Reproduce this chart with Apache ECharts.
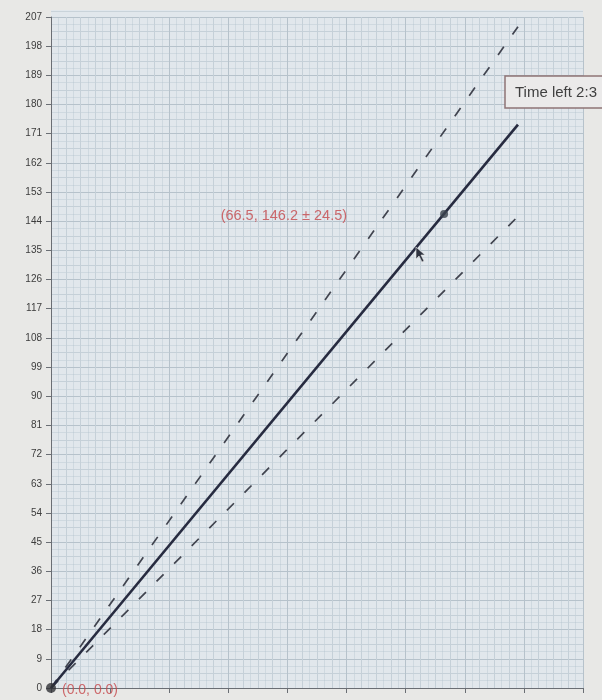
<!DOCTYPE html>
<html>
<head>
<meta charset="utf-8">
<script src="https://cdn.jsdelivr.net/npm/echarts@6/dist/echarts.min.js"></script>
<style>
html,body{margin:0;padding:0;background:#e8e8e6;}
#chart{width:602px;height:700px;}
</style>
</head>
<body>
<div id="chart"></div>
<script>
// ---- data ----
const xRange = [0, 90];
const xStep = 10;
const yRange = [0, 207];
const yStep = 9;
const origin = [0.0, 0.0];
const point = [66.5, 146.2];
const errorBand = 24.5;
const solidLine = [[0, 0], [79, 173.8]];
const upperDashed = [[0, 0], [79, 204]];
const lowerDashed = [[0, 0], [79, 145.5]];
const timeLeftText = 'Time left 2:3';

const FONT = '"Liberation Sans", Arial, sans-serif';
const chart = echarts.init(document.getElementById('chart'), null, {renderer: 'canvas'});

const plotBg = '#e1e7ec';
const majorGrid = '#b6c2cb';
const minorGrid = '#c5d0d8';
const fineGrid = 'rgba(170,188,200,0.32)';

const option = {
  backgroundColor: '#e8e8e6',
  animation: false,
  grid: {left: 51, right: 19, top: 17, bottom: 12, show: true, backgroundColor: plotBg, borderWidth: 0},
  xAxis: [
    {
      type: 'value', min: xRange[0], max: xRange[1], interval: xStep,
      axisLine: {show: true, onZero: false, lineStyle: {color: '#6a6e74', width: 1}},
      axisTick: {show: true, length: 5, lineStyle: {color: '#6a6e74'}},
      axisLabel: {show: false},
      splitLine: {show: true, lineStyle: {color: majorGrid, width: 1}},
      minorTick: {show: false, splitNumber: 4},
      minorSplitLine: {show: true, lineStyle: {color: minorGrid, width: 1}},
      z: 3
    },
    {
      type: 'value', min: xRange[0], max: xRange[1], interval: 1.25, position: 'top',
      axisLine: {show: false}, axisTick: {show: false}, axisLabel: {show: false},
      splitLine: {show: true, lineStyle: {color: fineGrid, width: 1}}
    }
  ],
  yAxis: [
    {
      type: 'value', min: yRange[0], max: yRange[1], interval: yStep,
      axisLine: {show: true, onZero: false, lineStyle: {color: '#6a6e74', width: 1}},
      axisTick: {show: true, length: 5, lineStyle: {color: '#6a6e74'}},
      axisLabel: {show: true, color: '#3c3c3c', fontSize: 10, fontFamily: FONT, margin: 9},
      splitLine: {show: true, lineStyle: {color: majorGrid, width: 1}},
      minorTick: {show: false, splitNumber: 2},
      minorSplitLine: {show: true, lineStyle: {color: minorGrid, width: 1}},
      z: 3
    },
    {
      type: 'value', min: yRange[0], max: yRange[1], interval: 2.25, position: 'right',
      axisLine: {show: false}, axisTick: {show: false}, axisLabel: {show: false},
      splitLine: {show: true, lineStyle: {color: fineGrid, width: 1}}
    }
  ],
  series: [
    {
      type: 'line', data: upperDashed, symbol: 'none', clip: false,
      lineStyle: {color: '#41444f', width: 1.7, type: [10, 15]}, z: 4
    },
    {
      type: 'line', data: lowerDashed, symbol: 'none', clip: false,
      lineStyle: {color: '#41444f', width: 1.7, type: [10, 15]}, z: 4
    },
    {
      type: 'line', data: solidLine, symbol: 'none', clip: false,
      lineStyle: {color: '#272b40', width: 2.6}, z: 5
    },
    {
      type: 'scatter', data: [point], symbolSize: 8, clip: false,
      itemStyle: {color: '#3b434e'}, z: 6,
      label: {
        show: true, position: 'left', distance: 93, offset: [0, 2],
        formatter: () => '(' + point[0].toFixed(1) + ', ' + point[1].toFixed(1) + ' \u00b1 ' + errorBand.toFixed(1) + ')',
        color: '#c5474b', fontSize: 14.5, fontFamily: FONT
      }
    },
    {
      type: 'scatter', data: [origin], symbolSize: 10, clip: false,
      itemStyle: {color: '#2f3136'}, z: 6,
      label: {
        show: true, position: 'right', distance: 6, offset: [0, 2],
        formatter: () => '(' + origin[0].toFixed(1) + ', ' + origin[1].toFixed(1) + ')',
        color: '#c5474b', fontSize: 14, fontFamily: FONT
      }
    }
  ],
  graphic: [
    {
      type: 'rect', z: -10, silent: true,
      shape: {x: 51, y: 10, width: 532, height: 8},
      style: {fill: plotBg}
    },
    {
      type: 'line', z: -9, silent: true,
      shape: {x1: 51, y1: 11.5, x2: 583, y2: 11.5},
      style: {stroke: '#c9d3da', lineWidth: 1}
    },
    {
      type: 'rect', z: 100, zlevel: 1,
      shape: {x: 505, y: 76, width: 110, height: 32},
      style: {fill: '#ebeaea', stroke: '#8f7475', lineWidth: 1.5}
    },
    {
      type: 'text', z: 101, zlevel: 1, x: 515, y: 93,
      style: {text: timeLeftText, fill: '#3f3f3f', fontSize: 15, fontFamily: FONT, verticalAlign: 'middle'}
    },
    {
      type: 'polygon', z: 100, zlevel: 1,
      shape: {points: [[416, 247], [416, 259], [419, 256], [422, 262], [424, 261], [421, 255], [425, 255]]},
      style: {fill: '#2f3440', stroke: '#e8e8e8', lineWidth: 0.6}
    }
  ]
};
chart.setOption(option);
</script>
</body>
</html>
